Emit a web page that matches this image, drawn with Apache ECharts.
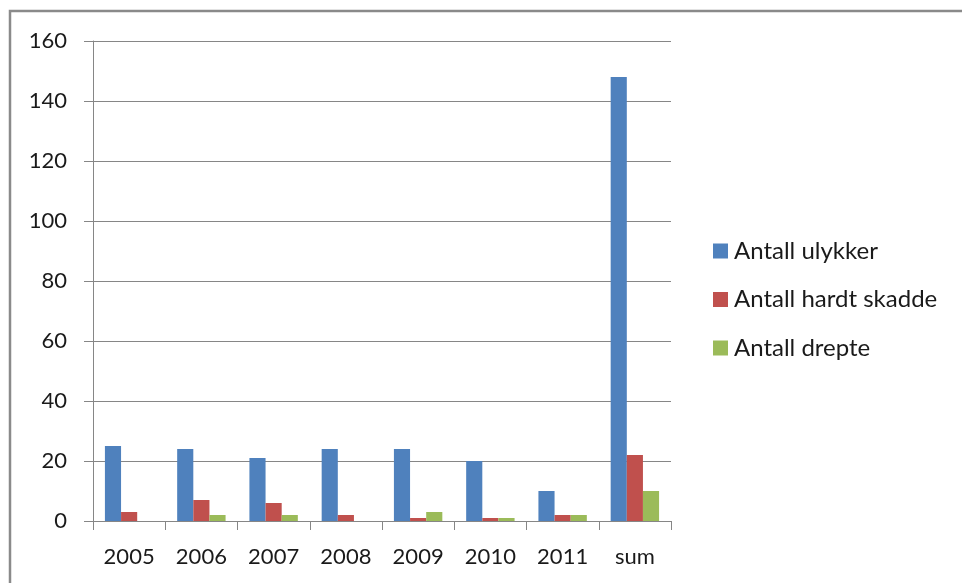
<!DOCTYPE html>
<html>
<head>
<meta charset="utf-8">
<script src="https://cdn.jsdelivr.net/npm/echarts@6/dist/echarts.min.js"></script>
<style>
  html, body { margin: 0; padding: 0; background: #fff; }
  #chart { width: 962px; height: 583px; }
</style>
</head>
<body>
<div id="chart"></div>
<script>
// Road accidents per year, with totals in the last column
const categories = ['2005', '2006', '2007', '2008', '2009', '2010', '2011', 'sum'];
const ulykker = [25, 24, 21, 24, 24, 20, 10, 148];
const hardtSkadde = [3, 7, 6, 2, 1, 1, 2, 22];
const drepte = [0, 2, 2, 0, 3, 1, 2, 10];
const yTicks = { min: 0, max: 160, interval: 20 };

const FONT = 'Lato, "Open Sans", "Liberation Sans", sans-serif';
const TEXT = '#1a1a1a';
const LINE = '#868686';

const chart = echarts.init(document.getElementById('chart'), null, { renderer: 'canvas' });

chart.setOption({
  animation: false,
  backgroundColor: '#ffffff',
  textStyle: { fontFamily: FONT },
  graphic: [{
    type: 'rect',
    shape: { x: 10, y: 11, width: 1100, height: 700 },
    style: { fill: 'none', stroke: '#8a8a8a', lineWidth: 2.5 },
    silent: true,
    z: -1
  }],
  grid: { left: 93, right: 291, top: 41, bottom: 62, containLabel: false },
  legend: {
    orient: 'vertical',
    left: 713,
    top: 239,
    padding: 0,
    itemWidth: 15,
    itemHeight: 15,
    itemGap: 24.5,
    icon: 'rect',
    textStyle: { fontFamily: FONT, fontSize: 24, color: TEXT, padding: [0, 0, 0, 1] },
    data: ['Antall ulykker', 'Antall hardt skadde', 'Antall drepte']
  },
  xAxis: {
    type: 'category',
    data: categories,
    boundaryGap: true,
    axisLine: { show: true, lineStyle: { color: LINE, width: 1 } },
    axisTick: { show: true, length: 9, alignWithLabel: false, lineStyle: { color: LINE } },
    axisLabel: { margin: 25, fontFamily: FONT, fontSize: 22, color: TEXT },
    splitLine: { show: false }
  },
  yAxis: {
    type: 'value',
    min: yTicks.min,
    max: yTicks.max,
    interval: yTicks.interval,
    axisLine: { show: true, lineStyle: { color: LINE, width: 1 } },
    axisTick: { show: true, length: 9, lineStyle: { color: LINE } },
    axisLabel: { margin: 26, fontFamily: FONT, fontSize: 22, color: TEXT },
    splitLine: { show: true, lineStyle: { color: LINE, width: 1 } }
  },
  series: [
    {
      name: 'Antall ulykker', type: 'bar', data: ulykker,
      barGap: '0%', barCategoryGap: '33%',
      itemStyle: { color: '#4F81BD' }
    },
    {
      name: 'Antall hardt skadde', type: 'bar', data: hardtSkadde,
      barGap: '0%', barCategoryGap: '33%',
      itemStyle: { color: '#C0504D' }
    },
    {
      name: 'Antall drepte', type: 'bar', data: drepte,
      barGap: '0%', barCategoryGap: '33%',
      itemStyle: { color: '#9BBB59' }
    }
  ]
});
</script>
</body>
</html>
